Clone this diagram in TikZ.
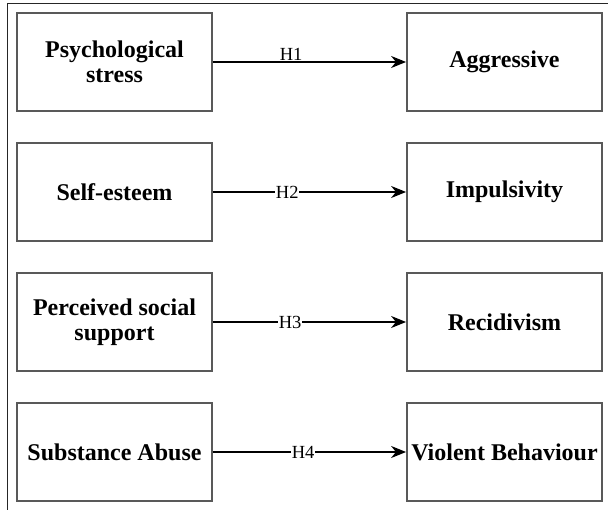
\documentclass[tikz,border=0pt]{standalone}
\usepackage{fontspec}
\setmainfont{Liberation Serif}
\usetikzlibrary{arrows.meta}
\begin{document}
\begin{tikzpicture}[x=1pt,y=-1pt,
  box/.style={draw=black!65,line width=1.8pt,minimum width=195pt,minimum height=98pt,inner sep=2pt,align=center,font=\fontsize{24}{25}\selectfont\bfseries,fill=white},
  conn/.style={line width=1.4pt,-{Stealth[length=15pt,width=12pt]}},
  hlab/.style={font=\fontsize{18.5}{19}\selectfont,inner sep=0.5pt},
  frame/.style={line width=1pt,draw=black!85}]
\useasboundingbox (0,0) rectangle (608,510);
\coordinate (fa) at (7,4);
\coordinate (fb) at (608,4);
\coordinate (fc) at (7,510);
\draw[frame] (fb) -- (fa) -- (fc);
\node[box] (l1) at (114.5,62) {Psychological\\stress};
\node[box] (r1) at (504.5,62) {Aggressive};
\node[box] (l2) at (114.5,192) {Self-esteem};
\node[box] (r2) at (504.5,192) {Impulsivity};
\node[box] (l3) at (114.5,322) {Perceived social\\support};
\node[box] (r3) at (504.5,322) {Recidivism};
\node[box] (l4) at (114.5,452) {Substance Abuse};
\node[box] (r4) at (504.5,452) {Violent Behaviour};
\draw[conn] (l1) -- node[hlab,pos=0.405,above,inner sep=0.5pt] (h1) {H1} (r1);
\draw[conn] (l2) -- node[hlab,pos=0.385,fill=white] (h2) {H2} (r2);
\draw[conn] (l3) -- node[hlab,pos=0.4,fill=white] (h3) {H3} (r3);
\draw[conn] (l4) -- node[hlab,pos=0.467,fill=white] (h4) {H4} (r4);
\end{tikzpicture}
\end{document}
